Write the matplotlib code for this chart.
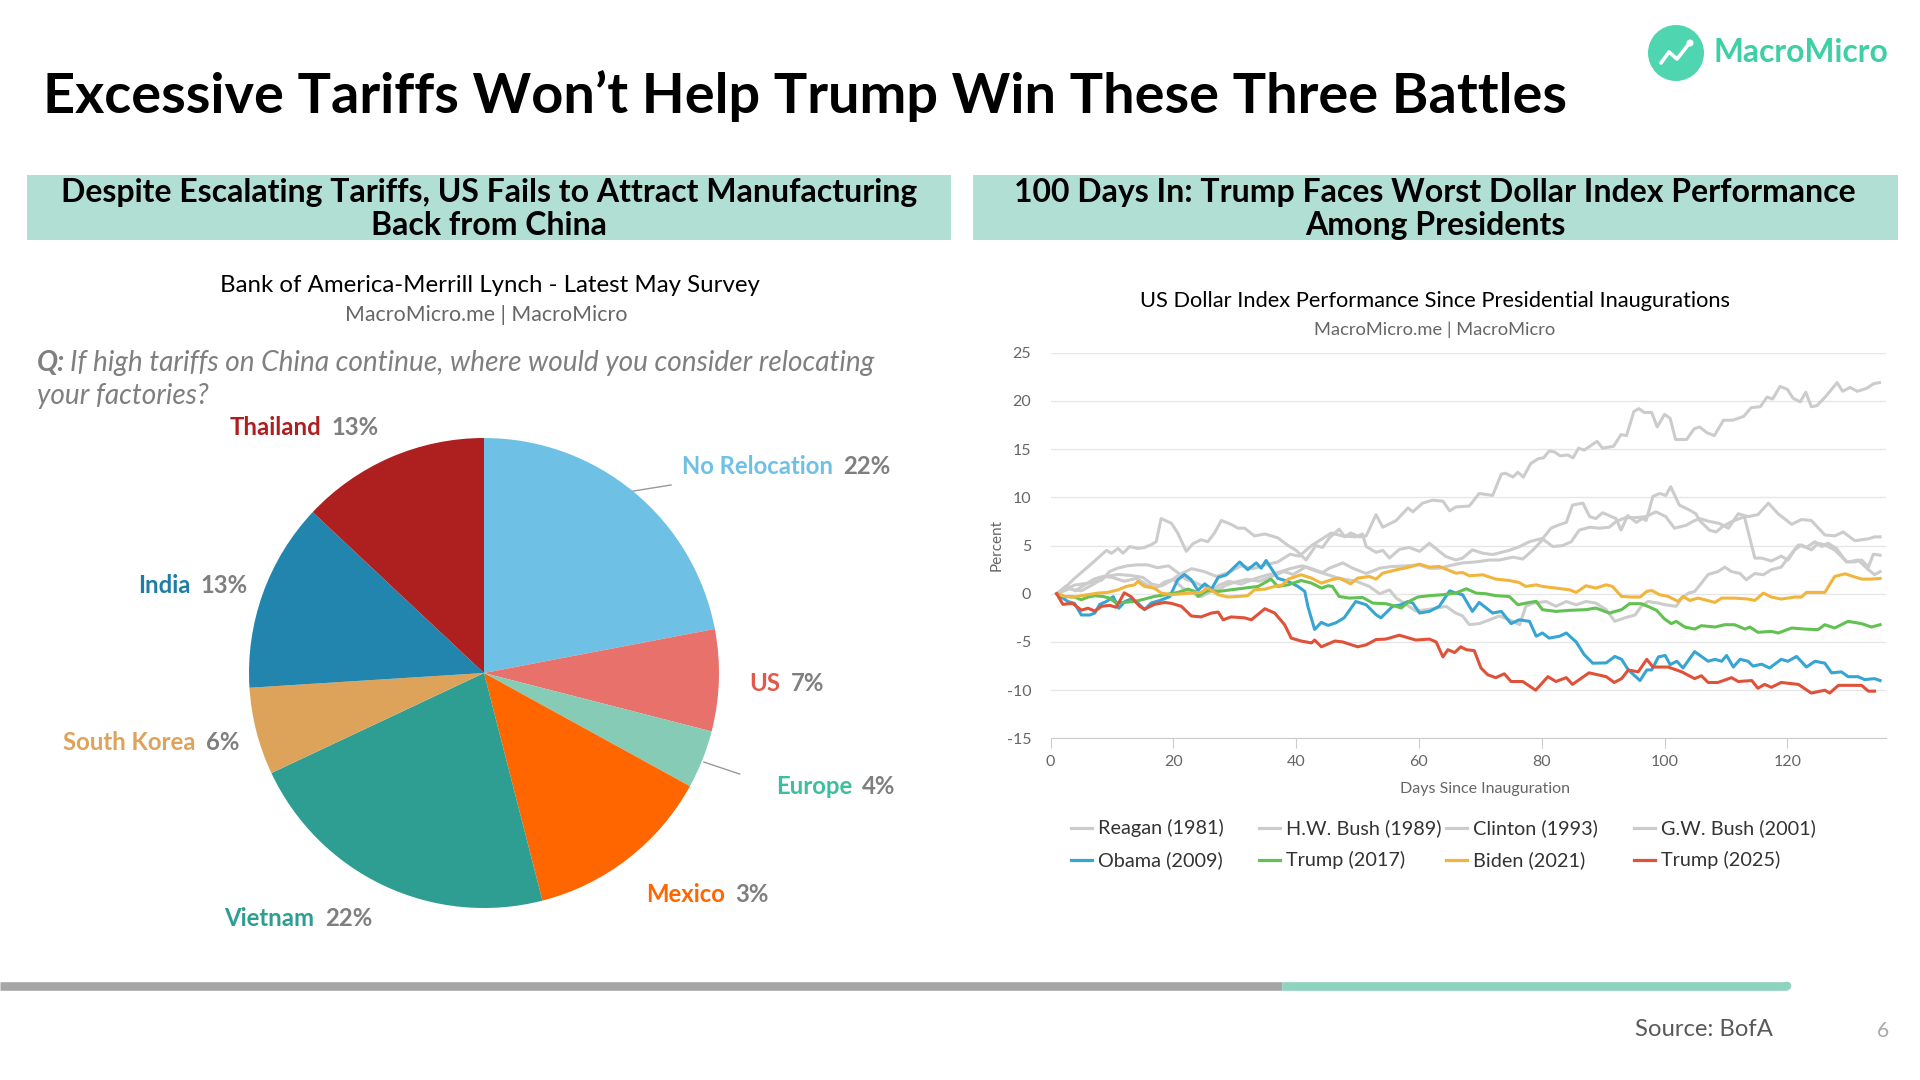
import matplotlib.pyplot as plt
from matplotlib.patches import Circle, Rectangle

plt.rcParams['font.family'] = ['Lato', 'DejaVu Sans']
plt.rcParams['axes.unicode_minus'] = False

# ---- pie data ----
pie_labels = ["No Relocation", "US", "Europe", "Mexico", "Vietnam", "South Korea", "India", "Thailand"]
pie_values = [22, 7, 4, 13, 22, 6, 13, 13]
pie_pct_text = ["22%", "7%", "4%", "3%", "22%", "6%", "13%", "13%"]
pie_colors = ["#6EC1E4", "#E8716B", "#85CBB6", "#FF6600", "#2E9E93", "#DEA35A", "#2185AD", "#AE1F1F"]
pie_label_colors = ["#6EC1E4", "#E5574B", "#3DBE9E", "#FF6600", "#2E9E93", "#DEA35A", "#1F7CA6", "#B01E1E"]

# ---- dollar index series (day, percent) ----
reagan_1981 = [(1,0),(2.3,0.6),(3.9,1.6),(6.1,2.8),(7.7,3.7),(9.1,4.5),(9.9,4.2),(11,4.7),(11.8,4.2),(12.9,4.9),
    (14.2,4.7),(15.3,4.8),(16.4,5.1),(17.2,5.4),(18,7.8),(19.7,7.3),(20.7,6.3),(22.1,4.4),(23.2,5.2),(24.5,5.6),
    (25.6,5.4),(26.7,6.3),(27.8,7.6),(29.4,7.2),(30.5,6.8),(31.6,6.8),(33.2,6.0),(34.9,6.2),(37,5.8),(38.7,5.0),
    (40,4.5),(41.6,3.5),(43.2,5.0),(44.3,4.8),(45.4,5.8),(47,6.7),(47.9,5.9),(48.9,6.3),(50.3,5.9),(51.4,6.0),
    (53,8.2),(54.1,6.9),(56.3,7.6),(58.2,8.9),(59,8.5),(60.6,9.4),(62.2,9.7),(63.9,9.6),(65,8.6),(66,9.0),
    (68.2,9.1),(69.8,10.4),(72,10.2),(73.4,12.4),(74.1,12.5),(75.3,12.1),(76.1,12.6),(77,12.1),(78.2,13.5),
    (79.4,14.0),(80.3,14.1),(81.2,14.8),(82.1,14.7),(83,14.3),(84.2,14.4),(85.1,14.1),(86,15.1),(86.9,14.9),
    (89,15.8),(89.9,15.1),(91.7,15.3),(92.9,16.5),(93.8,16.4),(95,18.9),(95.8,19.2),(96.7,18.8),(97.9,18.8),
    (98.8,17.3),(100,18.6),(100.9,18.2),(101.8,16.0),(103.6,16.0),(104.8,17.1),(105.7,17.3),(106.9,16.7),
    (108.1,16.4),(109.6,18.0),(111.1,18.0),(112.9,18.4),(114.1,19.3),(115.6,19.4),(116.7,20.4),(117.6,20.2),
    (118.8,21.5),(120,21.2),(120.9,20.3),(122.1,19.9),(123,20.9),(123.9,19.4),(124.8,19.5),(126.3,20.5),
    (128.1,21.9),(129,21.0),(130.2,21.4),(131.4,21.0),(132.9,21.3),(134.1,21.8),(135,21.9)]

hw_bush_1989 = [(1,0),(3.9,0.9),(6.1,1.1),(8.3,1.4),(9.6,2.3),(10.9,2.65),(12.5,2.9),(14.2,3.0),(15.8,3.0),
    (17.4,2.7),(19.2,2.9),(20.7,2.2),(22,1.5),(23.5,1.2),(25,0.7),(27,0.3),(28.6,0.9),(30,1.2),(32,1.5),(34,1.3),
    (36,1.8),(38,2.3),(39.5,2.0),(41.6,2.8),(44.3,2.2),(45.4,2.65),(47.6,3.2),(49.2,2.65),(51.4,2.1),(53.6,2.65),
    (55.2,2.8),(57.9,2.9),(60,3.0),(61.7,2.65),(63.3,2.65),(65.6,3.0),(67.1,3.2),(69.3,3.3),(71.5,3.5),(73.1,3.5),
    (75.3,3.8),(76.9,3.6),(78.5,4.5),(80.2,5.65),(81.8,4.9),(83.4,5.0),(84.8,5.4),(86.1,6.6),(87.8,6.9),(89.4,6.8),
    (91,6.9),(92.1,7.5),(93.7,7.9),(95.4,7.9),(97,8.0),(98.6,8.5),(100.2,8.0),(101.6,6.8),(103.5,7.1),(104.6,7.5),
    (105.7,7.8),(107.3,7.5),(108.9,7.3),(110.4,6.8),(112,8.3),(113.6,8.0),(115.2,8.2),(116.9,9.4),(118.5,8.3),
    (120.7,7.2),(122.3,7.7),(123.9,7.6),(126.1,6.1),(127.7,6.0),(129.1,6.4),(131,5.5),(133.2,5.7),(134.2,5.9),
    (135.1,5.9)]

clinton_1993 = [(1,0),(2.5,0.8),(4,0.3),(5.5,0.9),(7,1.5),(8.5,1.8),(10,1.7),(12,1.3),(14,1.6),(15.5,1.0),(17,0.5),
    (18.5,1.2),(20,1.5),(21.5,0.6),(23,0.1),(24.5,-0.3),(26,0.2),(27.5,0.9),(29,1.3),(31,1.0),(33,1.5),(35,1.9),
    (37,2.2),(39,2.6),(41,2.9),(43,2.4),(45,2.0),(47,1.6),(49.8,1.3),(51.9,0.76),(53.6,0.0),(55.2,0.4),(56.3,-0.45),
    (57.9,-1.1),(59.5,-1.8),(61.2,-1.65),(62.8,-1.5),(64.4,-1.3),(66,-2.0),(67.1,-2.3),(68.2,-3.2),(69.8,-3.1),
    (71.5,-2.7),(73.1,-2.3),(74.7,-2.7),(76.4,-3.2),(77.4,-1.3),(78.5,-1.0),(80.7,-0.8),(82.3,-1.3),(84,-0.8),
    (85.6,-1.15),(87.2,-0.8),(88.8,-0.97),(90.5,-1.65),(91.9,-2.86),(93.5,-2.5),(95.2,-2.2),(96.2,-1.3),(97.3,-0.8),
    (99,-0.97),(100.1,-1.14),(101.9,-1.3),(102.8,-0.45),(103.9,0.07),(104.9,0.24),(106,1.1),(107.1,2.0),(108.7,2.3),
    (109.8,2.76),(110.9,2.3),(112.3,2.1),(113.3,1.45),(114.7,2.1),(116.1,1.97),(117.4,2.5),(119,2.76),(120.1,3.7),
    (121.8,5.07),(123.1,4.8),(124.5,5.4),(125.6,4.9),(126.6,5.24),(128,4.7),(129.6,3.3),(131,3.3),(132.1,3.5),
    (133.2,2.76),(134,4.1),(135.1,4.0)]

gw_bush_2001 = [(1,0),(3,0.5),(5,0.3),(7,1.0),(9,1.8),(11,2.0),(13,1.9),(15,1.7),(16.5,1.0),(18,0.8),(19.5,1.3),
    (21,2.0),(23,2.6),(25,2.3),(27,1.8),(29,2.2),(31,2.9),(33,2.6),(35,3.0),(37,3.3),(39,4.1),(40.5,3.9),(42.5,5.0),
    (44,5.6),(45.7,6.3),(47.5,6.0),(49.7,5.9),(50.8,6.2),(51.4,4.9),(53,4.3),(54.1,4.5),(55.2,3.7),(56.8,4.6),
    (58.4,4.8),(60.1,4.4),(61.7,5.24),(63.3,4.4),(64.4,3.86),(66,3.5),(67.1,3.7),(68.7,4.55),(70.4,4.2),(72,4.07),
    (74.7,4.5),(76.4,4.9),(78,5.4),(80.2,5.76),(81.5,6.8),(82.6,7.1),(84,7.4),(85,9.2),(86.7,9.4),(87.8,8.0),
    (88.8,7.8),(89.9,8.4),(91,8.1),(92.1,7.8),(92.9,6.6),(94,8.1),(95.4,7.4),(96.4,7.8),(97,7.6),(98.1,10.1),
    (99.2,10.4),(100.2,10.2),(101,11.1),(102.4,9.2),(104,8.7),(105.1,8.3),(105.7,7.6),(107.3,6.6),(108.4,6.4),
    (109.5,7.0),(111,7.5),(113,8.0),(114.7,3.7),(115.8,3.7),(117.4,3.4),(119,3.9),(120.1,3.5),(121.2,4.55),
    (122.3,5.07),(123.9,4.55),(125,5.24),(126.1,5.07),(127.7,4.55),(129.4,3.5),(129.9,3.3),(131.5,3.5),(133.2,2.5),
    (134.2,1.97),(135.1,2.3)]

obama_2009 = [(1,0),(2.8,-0.8),(3.9,-1.0),(5,-2.2),(6.4,-2.2),(7.2,-2.0),(8,-1.1),(9.1,-0.8),(10.2,-0.3),(11.1,-1.5),
    (12.1,-0.8),(13.1,-0.55),(14.2,-0.95),(15.3,-1.65),(16.4,-0.95),(17.8,-0.7),(19.4,-0.3),(20.7,1.45),(21.8,2.0),
    (22.9,1.45),(24,0.35),(25.1,1.03),(26.2,0.48),(27.3,1.7),(28.6,1.95),(30.8,3.3),(32.1,2.5),(33.5,3.2),(34.3,2.65),
    (35.1,3.45),(37,1.6),(38.7,1.28),(40.3,0.76),(41.4,0.24),(41.9,-1.3),(43,-3.7),(44.1,-2.97),(45.2,-3.28),
    (46.5,-3.0),(47.8,-2.5),(49.7,-0.8),(51.4,-1.14),(53,-2.17),(53.8,-2.5),(55.7,-1.3),(57.1,-1.14),(58.2,-0.8),
    (59,-0.97),(60.1,-2.0),(61.7,-1.83),(63.3,-1.3),(65,0.3),(66,0.07),(67.1,-0.1),(68.7,-1.83),(69.8,-0.9),(72,-2.0),
    (73.4,-1.83),(75,-3.1),(76.3,-2.7),(78,-2.86),(79.1,-4.4),(80.1,-4.07),(81.2,-4.6),(82.9,-4.4),(84,-4.07),
    (85.6,-5.0),(86.9,-6.3),(88.3,-7.2),(90.5,-7.17),(91.9,-6.5),(93,-6.8),(94.1,-7.9),(96,-9.0),(97.1,-7.9),
    (97.9,-7.9),(99,-6.55),(100.1,-6.4),(100.9,-7.35),(102,-7.0),(103,-7.7),(104.9,-6.0),(107.1,-7.0),(108.2,-6.8),
    (109.3,-7.0),(110.1,-6.4),(111.2,-7.6),(112.3,-6.8),(113.6,-7.0),(114.4,-7.5),(115.8,-7.3),(117.1,-7.7),(119,-6.8),
    (120.1,-7.0),(121.5,-6.5),(123.1,-7.6),(124.5,-7.0),(126.1,-7.2),(127.2,-8.2),(128.8,-8.1),(129.9,-8.6),
    (131.5,-8.6),(132.6,-8.9),(134.2,-8.8),(135.1,-9.0)]

trump_2017 = [(1,0),(2.3,-0.28),(3.9,-0.34),(5,-0.62),(6.1,-0.34),(7.2,-0.2),(8.5,-0.28),(9.6,-0.45),(10.7,-0.97),
    (11.8,-0.9),(13.7,-0.8),(15.3,-0.55),(16.9,-0.28),(18.6,-0.1),(20.7,0.14),(22.4,0.48),(23.5,0.24),(24,-0.28),
    (25.6,0.34),(27.3,0.24),(29.4,0.41),(31.6,0.59),(33.8,0.76),(35.9,1.52),(37,0.76),(38.7,0.93),(40.8,1.38),
    (42.5,1.1),(44.1,0.59),(45.2,0.83),(45.9,0.76),(47,-0.28),(48.7,-0.45),(50.8,-0.38),(52.5,-0.97),(54.6,-1.03),
    (56.3,-1.31),(57.1,-1.48),(58.4,-0.79),(59.8,-0.34),(61.7,-0.2),(63.9,-0.1),(66,0.07),(67.7,0.52),(69.3,0.07),
    (70.9,0),(72.5,-0.2),(74.7,-0.28),(76.1,-1.14),(78,-0.9),(79.1,-0.79),(80.1,-1.65),(82.3,-1.83),(84.5,-1.72),
    (87.2,-1.65),(88.8,-1.48),(91,-2.0),(93,-1.65),(94.3,-1.03),(96.2,-1.03),(97.3,-1.31),(98.7,-1.72),(100,-2.62),
    (101.1,-3.1),(101.9,-2.86),(103.3,-3.45),(104.9,-3.66),(106,-3.31),(108.2,-3.45),(109.8,-3.21),(111.4,-3.21),
    (113.1,-3.66),(113.9,-3.45),(115.2,-4.0),(117.4,-3.9),(118.5,-4.07),(120.7,-3.55),(122.8,-3.66),(125,-3.72),
    (126.1,-3.21),(127.7,-3.55),(129.9,-2.86),(132.1,-3.1),(133.7,-3.45),(135.1,-3.21)]

biden_2021 = [(1,0),(2.3,-0.28),(3.9,-0.34),(5,-0.2),(6.1,-0.1),(7.7,0.07),(9.3,0.14),(11,0.41),(12.3,0.76),
    (13.7,0.93),(14.2,1.28),(15.3,0.76),(16.9,0.59),(18,0.07),(19.7,-0.1),(21.3,0),(22.9,0.07),(24.5,0.14),
    (25.6,0.59),(27.3,-0.1),(28.9,-0.34),(30.5,-0.28),(32.1,-0.2),(33.2,0.41),(34.9,0.48),(36.5,0.76),(37.8,0.93),
    (38.7,1.52),(40.8,1.97),(42.5,1.62),(44.1,1.1),(45.7,1.45),(47,1.62),(48.9,1.03),(50,1.62),(51.9,1.79),(53,1.52),
    (54.1,2.14),(56.3,2.48),(58.4,2.76),(60.1,3.07),(61.7,2.76),(63.3,2.83),(64.4,2.55),(66,2.14),(67.1,2.21),
    (68.2,1.86),(70.4,1.97),(72.5,1.52),(74.7,1.38),(76.3,1.17),(77.4,0.76),(79.1,0.93),(80.1,0.76),(82.3,0.59),
    (84.5,0.41),(85.6,0.14),(87.2,0.83),(88.8,0.59),(90.5,0.93),(91.5,0.76),(93,-0.28),(94.6,-0.34),(96,-0.34),
    (97.1,0.24),(97.9,0.34),(99.2,-0.1),(100.6,-0.28),(102.2,-0.79),(103,-0.28),(104.1,-0.69),(105.5,-0.45),
    (108.2,-0.9),(109.3,-0.45),(111.4,-0.45),(113.6,-0.55),(114.7,-0.69),(116.1,0.07),(117.4,-0.34),(119,-0.55),
    (121.2,-0.34),(122.3,-0.34),(123.1,0.14),(125,0.14),(126.1,0.14),(127.7,1.79),(129.4,2.07),(130.4,1.86),
    (132.1,1.52),(133.7,1.52),(135.1,1.59)]

trump_2025 = [(1,0),(2,-1.1),(3.6,-1.0),(5,-1.7),(6.1,-1.5),(7.2,-1.8),(8.3,-1.3),(9.6,-1.2),(10.7,-1.4),(12,0.1),
    (13.1,-0.3),(14.5,-1.3),(15.3,-1.6),(16.9,-1.1),(18.6,-0.9),(19.7,-1.0),(21.3,-1.3),(22.9,-2.3),(24.5,-2.4),
    (26.2,-2.0),(27.3,-1.9),(28.1,-2.7),(29.4,-2.4),(31.6,-2.5),(32.7,-2.7),(34.9,-1.55),(36.5,-2.0),(38.1,-3.2),
    (39.2,-4.6),(40.8,-4.9),(42.5,-5.1),(43,-4.8),(44.1,-5.5),(46.3,-4.9),(47.6,-5.0),(50,-5.5),(51.4,-5.3),
    (53,-4.75),(54.6,-4.7),(56.8,-4.3),(59.5,-4.8),(61.7,-4.7),(62.8,-5.0),(63.9,-6.55),(64.7,-5.8),(65.8,-6.1),
    (66.8,-5.5),(67.7,-5.8),(69,-5.9),(70.1,-7.7),(71.2,-8.4),(72.5,-8.7),(73.9,-8.3),(75,-9.1),(76.9,-9.1),
    (79,-10.0),(81,-8.6),(82.3,-9.1),(84,-8.7),(85,-9.4),(87.7,-8.2),(90.5,-8.6),(91.8,-9.2),(93,-8.8),(94.1,-7.9),
    (95.7,-8.1),(97.1,-6.8),(98.1,-7.6),(100.6,-7.6),(102.8,-8.1),(104.9,-8.8),(106,-8.5),(107.1,-9.2),(108.7,-9.2),
    (110.9,-8.7),(112,-9.1),(114.2,-9.0),(115.2,-9.8),(116.3,-9.4),(117.4,-9.7),(119,-9.2),(121.8,-9.4),
    (123.9,-10.3),(126.1,-10.0),(126.9,-10.3),(128.3,-9.5),(129.9,-9.5),(132.1,-9.5),(133.2,-10.1),(134.2,-10.1)]

series_names = ["Reagan (1981)", "H.W. Bush (1989)", "Clinton (1993)", "G.W. Bush (2001)",
                "Obama (2009)", "Trump (2017)", "Biden (2021)", "Trump (2025)"]
series_data = [reagan_1981, hw_bush_1989, clinton_1993, gw_bush_2001,
               obama_2009, trump_2017, biden_2021, trump_2025]
series_colors = ["#CCCCCC", "#CCCCCC", "#CCCCCC", "#CCCCCC",
                 "#37A5D3", "#62C152", "#F2B53C", "#E0513A"]

x_ticks = [0, 20, 40, 60, 80, 100, 120]
y_ticks = [-15, -10, -5, 0, 5, 10, 15, 20, 25]

fig = plt.figure(figsize=(19.2, 10.8), dpi=100)
renderer = fig.canvas.get_renderer()

# background axes in pixel units (y down)
bg = fig.add_axes([0, 0, 1, 1])
bg.set_xlim(0, 1920)
bg.set_ylim(1080, 0)
bg.axis('off')


def fit(t, width):
    w = t.get_window_extent(renderer).width
    t.set_fontsize(t.get_fontsize() * width / w)
    return t


# title
fit(bg.text(43, 113, "Excessive Tariffs Won\u2019t Help Trump Win These Three Battles",
            fontsize=40, fontweight='bold', color='black', va='baseline'), 1524)

# logo
bg.add_patch(Circle((1676, 53), 28, color='#4FD6B0', lw=0))
bg.plot([1661, 1669, 1677, 1688], [63, 52, 59, 45], color='white', lw=2.6, solid_capstyle='round')
bg.add_patch(Circle((1690, 43), 3.5, color='white', lw=0))
fit(bg.text(1714, 53, "MacroMicro", fontsize=22, fontweight='bold', color='#3FCFA5', va='center'), 175)

# section headers
bg.add_patch(Rectangle((27, 175), 924, 65, color='#B2DFD3', lw=0))
bg.add_patch(Rectangle((973, 175), 925, 65, color='#B2DFD3', lw=0))
h1 = fit(bg.text(489, 202, "Despite Escalating Tariffs, US Fails to Attract Manufacturing",
                 fontsize=21, fontweight='bold', ha='center', va='baseline'), 858)
bg.text(489, 235, "Back from China", fontsize=h1.get_fontsize(), fontweight='bold', ha='center', va='baseline')
h2 = fit(bg.text(1435, 202, "100 Days In: Trump Faces Worst Dollar Index Performance",
                 fontsize=21, fontweight='bold', ha='center', va='baseline'), 840)
bg.text(1435, 235, "Among Presidents", fontsize=h2.get_fontsize(), fontweight='bold', ha='center', va='baseline')

# left subtitles
fit(bg.text(490, 292, "Bank of America-Merrill Lynch - Latest May Survey", fontsize=16,
            color='black', ha='center', va='baseline'), 540)
fit(bg.text(486, 321, "MacroMicro.me | MacroMicro", fontsize=14, color='#666666',
            ha='center', va='baseline'), 283)

# question
q = bg.text(37, 371, "Q:", fontsize=19, fontweight='bold', style='italic', color='#7F7F7F', va='baseline')
qw = q.get_window_extent(renderer).width
q1 = bg.text(37 + qw + 6, 371, "If high tariffs on China continue, where would you consider relocating",
             fontsize=19, style='italic', color='#7F7F7F', va='baseline')
fit(q1, 837 - qw - 6)
q.set_fontsize(q1.get_fontsize())
bg.text(37, 404, "your factories?", fontsize=q1.get_fontsize(), style='italic', color='#7F7F7F', va='baseline')

# pie
pax = fig.add_axes([249 / 1920, 1 - 908 / 1080, 470 / 1920, 470 / 1080])
pax.pie(pie_values, colors=pie_colors, startangle=90, counterclock=False,
        wedgeprops=dict(linewidth=0))
pax.set_xlim(-1, 1)
pax.set_ylim(-1, 1)

# label anchor (gap between name and percent), in pie radius units
label_pos = [(1.505, 0.878), (1.284, -0.044), (1.588, -0.482), (1.046, -0.941),
             (-0.700, -1.045), (-1.205, -0.295), (-1.228, 0.372), (-0.672, 1.045)]
name_size = None
for name, pct, col, (gx, gy) in zip(pie_labels, pie_pct_text, pie_label_colors, label_pos):
    t = pax.text(gx - 0.022, gy, name, color=col, fontsize=16, fontweight='bold',
                 ha='right', va='center', clip_on=False)
    if name == "No Relocation":
        fit(t, 152)
        name_size = t.get_fontsize()
    pax.text(gx + 0.022, gy, pct, color='#7F7F7F', fontsize=16, fontweight='bold',
             ha='left', va='center', clip_on=False)
for t in pax.texts:
    t.set_fontsize(name_size)
pax.plot([0.634, 0.796], [0.774, 0.800], color='#999999', lw=1, clip_on=False)
pax.plot([0.936, 1.088], [-0.379, -0.430], color='#999999', lw=1, clip_on=False)

# line chart
ax = fig.add_axes([1050.6 / 1920, 1 - 738.4 / 1080, 835 / 1920, 385.7 / 1080])
for i, (name, data, col) in enumerate(zip(series_names, series_data, series_colors)):
    days = [d for d, v in data]
    vals = [v for d, v in data]
    ax.plot(days, vals, color=col, lw=2.2, zorder=2 + i, solid_joinstyle='round')
ax.set_xlim(0, 136)
ax.set_ylim(-15, 25)
ax.set_xticks(x_ticks)
ax.set_yticks(y_ticks)
ax.grid(axis='y', color='#E6E6E6', lw=1)
ax.set_axisbelow(True)
for s in ['top', 'right', 'left']:
    ax.spines[s].set_visible(False)
ax.spines['bottom'].set_color('#CCCCCC')
ax.tick_params(axis='y', length=0, pad=14, labelcolor='#666666', labelsize=11.5)
ax.tick_params(axis='x', length=7, color='#CCCCCC', pad=5, labelcolor='#666666', labelsize=11.5)

fit(bg.text(1435, 307, "US Dollar Index Performance Since Presidential Inaugurations",
            fontsize=14, color='black', ha='center', va='baseline'), 594)
fit(bg.text(1435, 335, "MacroMicro.me | MacroMicro", fontsize=12, color='#666666',
            ha='center', va='baseline'), 241)
bg.text(1485, 789, "Days Since Inauguration", fontsize=11.5, color='#666666', ha='center', va='center')
bg.text(997, 545, "Percent", fontsize=11, color='#666666', ha='center', va='center', rotation=90)

# legend
leg_x = [1071, 1259, 1446, 1634]
leg_y = [828, 860]
leg_size = None
for i, (name, col) in enumerate(zip(series_names, series_colors)):
    x0 = leg_x[i % 4]
    y0 = leg_y[i // 4]
    bg.plot([x0, x0 + 21], [y0, y0], color=col, lw=2.3)
    t = bg.text(x0 + 27, y0, name, fontsize=14, color='#333333', va='center')
    if i == 0:
        fit(t, 126)
        leg_size = t.get_fontsize()
    else:
        t.set_fontsize(leg_size)

# bottom bar
bg.plot([0, 1282], [986, 986], color='#A6A6A6', lw=6.2, solid_capstyle='butt')
bg.plot([1282, 1787], [986, 986], color='#8DD3BF', lw=6.2, solid_capstyle='butt')
bg.add_patch(Circle((1787, 986), 4.3, color='#8DD3BF', lw=0))

fit(bg.text(1773, 1029, "Source: BofA", fontsize=17, color='#595959', ha='right', va='center'), 138)
bg.text(1883, 1031, "6", fontsize=15, color='#AAAAAA', ha='center', va='center')

fig.savefig('out.png', dpi=100)
